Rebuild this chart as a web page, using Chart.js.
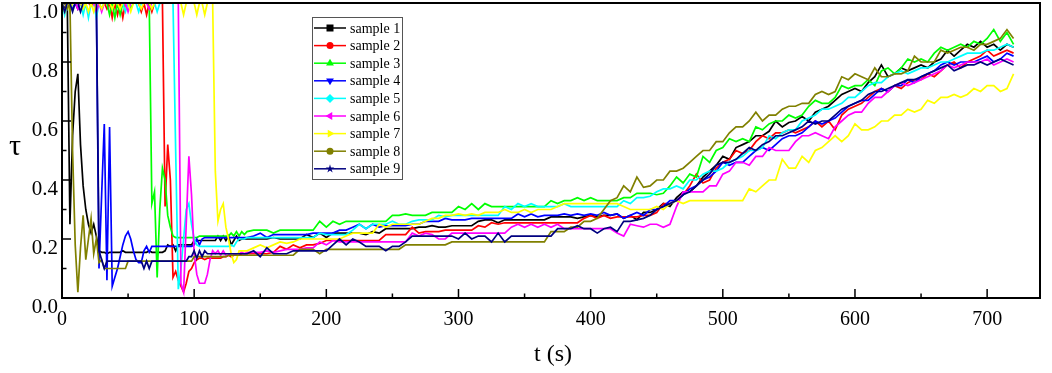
<!DOCTYPE html>
<html>
<head>
<meta charset="utf-8">
<script src="https://cdn.jsdelivr.net/npm/chart.js@4.4.1/dist/chart.umd.min.js"></script>
<style>
  html, body { margin: 0; padding: 0; background: #fff; }
  #wrap { width: 1052px; height: 373px; }
</style>
</head>
<body>
<div id="wrap"><canvas id="c"></canvas></div>
<script>
// time (s): 2 s steps up to 140 s, then 5 s steps
const tEarly = [0,2,4,6,8,10,12,14,16,18, 20,22,24,26,28,30,32,34,36,38,
  40,42,44,46,48,50,52,54,56,58, 60,62,64,66,68,70,72,74,76,78,
  80,82,84,86,88,90,92,94,96,98, 100,102,104,106,108,110,112,114,116,118,
  120,122,124,126,128,130,132,134,136,138, 140];
const tLate = [145,150,155,160,165,170,175,180,185,190, 195,200,205,210,215,220,225,230,235,240,
  245,250,255,260,265,270,275,280,285,290, 295,300,305,310,315,320,325,330,335,340,
  345,350,355,360,365,370,375,380,385,390, 395,400,405,410,415,420,425,430,435,440,
  445,450,455,460,465,470,475,480,485,490, 495,500,505,510,515,520,525,530,535,540,
  545,550,555,560,565,570,575,580,585,590, 595,600,605,610,615,620,625,630,635,640,
  645,650,655,660,665,670,675,680,685,690, 695,700,705,710,715,720];

const names = ["sample 1","sample 2","sample 3","sample 4","sample 5","sample 6","sample 7","sample 8","sample 9"];
const colors = ["#000000","#ff0000","#00ff00","#0000ff","#00ffff","#ff00ff","#ffff00","#808000","#000080"];
const markers = ["square","circle","triUp","triDown","diamond","triLeft","triRight","circle","star"];

const s1Early = [1.0,0.98,1.0,0.25,0.55,0.7,0.76,0.52,0.38,0.3,
  0.25,0.22,0.25,0.21,0.16,0.155,0.155,0.15,0.155,0.155,
  0.155,0.155,0.155,0.16,0.155,0.155,0.155,0.155,0.155,0.155,
  0.155,0.155,0.155,0.16,0.155,0.155,0.155,0.155,0.155,0.16,
  0.18,0.175,0.18,0.16,0.18,0.18,0.18,0.18,0.18,0.18,
  0.195,0.195,0.195,0.195,0.195,0.195,0.195,0.195,0.195,0.21,
  0.195,0.21,0.195,0.21,0.18,0.195,0.21,0.195,0.2,0.2, 0.2];
const s1Late = [0.2,0.2,0.2,0.205,0.2,0.2,0.2,0.2,0.215,0.205,
  0.22,0.205,0.22,0.22,0.22,0.22,0.22,0.215,0.225,0.22,
  0.235,0.235,0.235,0.235,0.235,0.24,0.24,0.245,0.24,0.24,
  0.245,0.245,0.245,0.245,0.26,0.265,0.265,0.255,0.265,0.265,
  0.265,0.265,0.265,0.265,0.265,0.275,0.275,0.275,0.275,0.27,
  0.275,0.28,0.275,0.28,0.28,0.285,0.27,0.28,0.265,0.29,
  0.29,0.3,0.32,0.31,0.34,0.36,0.36,0.38,0.41,0.43,
  0.45,0.48,0.47,0.51,0.52,0.53,0.55,0.55,0.565,0.6,
  0.58,0.595,0.6,0.615,0.6,0.63,0.64,0.65,0.67,0.69,
  0.7,0.71,0.7,0.73,0.75,0.79,0.75,0.76,0.78,0.77,
  0.78,0.79,0.78,0.8,0.81,0.84,0.82,0.84,0.86,0.85,
  0.87,0.85,0.86,0.84,0.86,0.85];

const s2Early = [1.0,1.0,0.98,1.0,1.0,1.0,0.98,1.0,1.0,1.0,
  1.0,0.99,1.0,1.0,1.0,1.0,1.0,0.98,1.0,0.95,
  1.0,0.96,1.0,0.95,1.0,1.0,1.0,1.0,1.0,1.0,
  0.97,1.0,0.96,1.0,0.97,1.0,1.0,1.0,1.0,0.31,
  0.52,0.4,0.07,0.09,0.06,0.04,0.02,0.05,0.09,0.1,
  0.12,0.13,0.135,0.135,0.13,0.135,0.135,0.135,0.135,0.135,
  0.135,0.14,0.14,0.145,0.14,0.145,0.145,0.145,0.15,0.15, 0.15];
const s2Late = [0.15,0.15,0.15,0.155,0.175,0.165,0.18,0.17,0.18,0.18,
  0.185,0.195,0.195,0.195,0.195,0.195,0.195,0.195,0.195,0.195,
  0.215,0.215,0.215,0.215,0.24,0.22,0.225,0.225,0.225,0.23,
  0.23,0.23,0.23,0.23,0.245,0.24,0.255,0.25,0.255,0.255,
  0.255,0.255,0.255,0.255,0.255,0.255,0.255,0.255,0.255,0.255,
  0.27,0.28,0.27,0.28,0.27,0.275,0.275,0.275,0.275,0.28,
  0.28,0.29,0.32,0.32,0.33,0.35,0.38,0.42,0.39,0.4,
  0.44,0.46,0.47,0.5,0.49,0.5,0.53,0.55,0.54,0.56,
  0.56,0.57,0.56,0.57,0.58,0.6,0.58,0.6,0.57,0.62,
  0.64,0.65,0.66,0.68,0.7,0.71,0.7,0.72,0.71,0.73,
  0.74,0.74,0.76,0.75,0.77,0.79,0.8,0.78,0.8,0.81,
  0.82,0.84,0.82,0.83,0.84,0.83];

const s3Early = [1.0,1.0,1.0,0.98,1.0,1.0,1.0,1.0,0.98,1.0,
  1.0,1.0,1.0,1.0,1.0,0.98,1.0,1.0,0.96,1.0,
  0.95,1.0,0.96,1.0,1.0,1.0,0.98,1.0,1.0,1.0,
  1.0,1.0,1.0,1.0,0.32,0.36,0.07,0.3,0.44,0.4,
  0.28,0.24,0.21,0.205,0.205,0.205,0.205,0.205,0.205,0.205,
  0.205,0.205,0.21,0.21,0.21,0.21,0.21,0.21,0.21,0.21,
  0.21,0.21,0.21,0.21,0.22,0.21,0.225,0.21,0.225,0.215, 0.225];
const s3Late = [0.23,0.23,0.23,0.22,0.23,0.23,0.23,0.23,0.23,0.23,
  0.26,0.24,0.26,0.25,0.26,0.26,0.26,0.26,0.26,0.26,
  0.26,0.28,0.28,0.285,0.28,0.28,0.28,0.29,0.29,0.29,
  0.29,0.31,0.3,0.32,0.3,0.32,0.31,0.31,0.31,0.31,
  0.31,0.31,0.31,0.31,0.31,0.33,0.32,0.33,0.33,0.34,
  0.33,0.34,0.33,0.33,0.33,0.33,0.34,0.34,0.355,0.355,
  0.355,0.35,0.355,0.38,0.41,0.39,0.42,0.41,0.48,0.46,
  0.5,0.51,0.54,0.53,0.54,0.53,0.58,0.57,0.59,0.6,
  0.6,0.62,0.61,0.62,0.65,0.67,0.66,0.66,0.68,0.72,
  0.71,0.72,0.72,0.74,0.72,0.77,0.78,0.76,0.78,0.81,
  0.8,0.81,0.8,0.83,0.85,0.84,0.85,0.86,0.85,0.87,
  0.86,0.88,0.91,0.87,0.9,0.86];

const s4Early = [1.0,1.0,0.98,1.0,0.98,1.0,0.98,1.0,1.0,1.0,
  1.0,1.0,1.0,1.0,0.1,0.35,0.59,0.06,0.58,0.04,
  0.07,0.1,0.14,0.18,0.21,0.225,0.2,0.16,0.13,0.12,
  0.12,0.16,0.175,0.155,0.175,0.175,0.175,0.175,0.175,0.175,
  0.175,0.175,0.175,0.175,0.175,0.175,0.175,0.175,0.175,0.175,
  0.18,0.2,0.18,0.2,0.205,0.205,0.205,0.205,0.205,0.205,
  0.205,0.205,0.205,0.205,0.205,0.205,0.205,0.205,0.205,0.205, 0.205];
const s4Late = [0.21,0.22,0.205,0.215,0.215,0.215,0.215,0.215,0.215,0.22,
  0.22,0.22,0.22,0.23,0.23,0.24,0.25,0.235,0.25,0.24,
  0.245,0.245,0.245,0.245,0.25,0.25,0.26,0.26,0.26,0.27,
  0.265,0.265,0.265,0.27,0.27,0.27,0.27,0.27,0.27,0.27,
  0.285,0.275,0.285,0.275,0.28,0.28,0.28,0.285,0.28,0.285,
  0.28,0.285,0.28,0.29,0.28,0.285,0.27,0.28,0.29,0.28,
  0.3,0.3,0.31,0.33,0.33,0.35,0.37,0.38,0.4,0.41,
  0.43,0.46,0.45,0.46,0.46,0.48,0.5,0.51,0.5,0.52,
  0.54,0.55,0.55,0.56,0.58,0.6,0.59,0.6,0.61,0.63,
  0.65,0.66,0.67,0.67,0.69,0.71,0.7,0.72,0.72,0.74,
  0.73,0.75,0.76,0.77,0.79,0.8,0.79,0.8,0.8,0.8,
  0.81,0.82,0.8,0.81,0.83,0.82];

const s5Early = [1.0,0.96,1.0,0.97,1.0,1.0,1.0,1.0,0.96,1.0,
  0.95,1.0,1.0,0.95,1.0,1.0,1.0,1.0,1.0,1.0,
  1.0,1.0,1.0,1.0,0.97,1.0,1.0,1.0,1.0,0.97,
  1.0,1.0,1.0,1.0,1.0,1.0,0.97,1.0,1.0,1.0,
  1.0,1.0,1.0,0.5,0.03,0.1,0.2,0.3,0.32,0.25,
  0.2,0.18,0.175,0.175,0.175,0.175,0.175,0.175,0.175,0.175,
  0.175,0.175,0.175,0.175,0.18,0.175,0.19,0.2,0.2,0.2, 0.205];
const s5Late = [0.205,0.205,0.205,0.205,0.205,0.205,0.205,0.205,0.205,0.205,
  0.22,0.215,0.215,0.215,0.215,0.23,0.25,0.235,0.25,0.25,
  0.25,0.26,0.25,0.25,0.26,0.265,0.265,0.265,0.28,0.275,
  0.28,0.28,0.28,0.28,0.28,0.28,0.28,0.28,0.31,0.3,
  0.32,0.31,0.32,0.31,0.31,0.31,0.31,0.32,0.31,0.31,
  0.31,0.31,0.31,0.31,0.31,0.31,0.33,0.32,0.34,0.34,
  0.345,0.36,0.37,0.37,0.38,0.37,0.4,0.4,0.42,0.43,
  0.43,0.44,0.46,0.47,0.48,0.5,0.5,0.51,0.55,0.54,
  0.56,0.57,0.57,0.6,0.61,0.62,0.64,0.64,0.65,0.66,
  0.68,0.68,0.7,0.72,0.73,0.73,0.75,0.76,0.77,0.76,
  0.77,0.78,0.78,0.79,0.8,0.8,0.81,0.82,0.83,0.83,
  0.83,0.84,0.84,0.85,0.86,0.85];

const s6Early = [1.0,1.0,1.0,1.0,1.0,1.0,0.98,1.0,1.0,1.0,
  1.0,1.0,1.0,0.97,1.0,0.97,1.0,1.0,1.0,1.0,
  1.0,1.0,1.0,1.0,1.0,0.97,1.0,1.0,1.0,1.0,
  1.0,1.0,1.0,0.98,1.0,1.0,1.0,1.0,1.0,1.0,
  1.0,1.0,1.0,1.0,1.0,0.05,0.02,0.25,0.48,0.35,
  0.15,0.08,0.05,0.05,0.05,0.08,0.13,0.16,0.15,0.16,
  0.145,0.16,0.145,0.145,0.15,0.15,0.15,0.15,0.155,0.15, 0.155];
const s6Late = [0.155,0.155,0.16,0.155,0.16,0.165,0.165,0.165,0.17,0.17,
  0.19,0.18,0.195,0.19,0.19,0.19,0.19,0.19,0.19,0.19,
  0.19,0.19,0.19,0.19,0.22,0.21,0.22,0.215,0.2,0.2,
  0.22,0.22,0.22,0.22,0.22,0.22,0.22,0.22,0.22,0.24,
  0.25,0.24,0.25,0.24,0.25,0.24,0.25,0.235,0.235,0.235,
  0.235,0.235,0.235,0.235,0.235,0.22,0.21,0.25,0.245,0.24,
  0.25,0.25,0.24,0.25,0.31,0.36,0.36,0.36,0.36,0.38,
  0.38,0.42,0.43,0.46,0.46,0.45,0.48,0.48,0.51,0.5,
  0.5,0.5,0.53,0.55,0.55,0.56,0.55,0.54,0.58,0.6,
  0.62,0.63,0.63,0.66,0.68,0.68,0.7,0.72,0.73,0.72,
  0.73,0.74,0.75,0.76,0.77,0.79,0.78,0.79,0.8,0.8,
  0.8,0.81,0.79,0.8,0.81,0.8];

const s7Early = [1.0,0.97,1.0,0.97,1.0,1.0,1.0,1.0,0.98,1.0,
  0.97,1.0,0.97,1.0,1.0,0.98,1.0,1.0,1.0,0.98,
  1.0,1.0,0.98,1.0,1.0,1.0,0.97,1.0,1.0,1.0,
  0.98,1.0,1.0,1.0,0.98,1.0,1.0,1.0,1.0,1.0,
  1.0,1.0,1.0,1.0,1.0,1.0,0.96,1.0,1.0,1.0,
  1.0,0.96,1.0,1.0,0.96,1.0,1.0,1.0,0.43,0.26,
  0.3,0.32,0.24,0.2,0.15,0.12,0.13,0.16,0.16,0.16, 0.16];
const s7Late = [0.17,0.18,0.17,0.18,0.19,0.185,0.19,0.2,0.2,0.2,
  0.2,0.2,0.2,0.2,0.21,0.22,0.22,0.22,0.22,0.25,
  0.24,0.25,0.25,0.25,0.25,0.25,0.26,0.27,0.27,0.28,
  0.28,0.285,0.28,0.285,0.28,0.29,0.29,0.29,0.3,0.29,
  0.29,0.3,0.29,0.3,0.3,0.3,0.31,0.32,0.32,0.32,
  0.32,0.32,0.32,0.32,0.32,0.32,0.31,0.3,0.3,0.3,
  0.3,0.31,0.3,0.32,0.33,0.32,0.33,0.33,0.33,0.33,
  0.33,0.33,0.33,0.33,0.33,0.37,0.36,0.38,0.4,0.4,
  0.47,0.44,0.44,0.48,0.46,0.5,0.51,0.53,0.55,0.53,
  0.55,0.59,0.57,0.57,0.58,0.6,0.6,0.62,0.62,0.64,
  0.63,0.64,0.67,0.66,0.68,0.68,0.69,0.68,0.69,0.71,
  0.7,0.72,0.72,0.7,0.71,0.76];

const s8Early = [1.0,1.0,0.98,1.0,0.5,0.18,0.02,0.17,0.28,0.13,
  0.2,0.27,0.15,0.2,0.12,0.13,0.1,0.1,0.1,0.1,
  0.1,0.1,0.1,0.1,0.1,0.125,0.125,0.125,0.125,0.125,
  0.125,0.125,0.125,0.125,0.125,0.125,0.125,0.125,0.125,0.125,
  0.125,0.125,0.125,0.125,0.125,0.125,0.125,0.125,0.125,0.125,
  0.14,0.14,0.14,0.14,0.14,0.14,0.14,0.14,0.14,0.14,
  0.14,0.14,0.14,0.145,0.145,0.145,0.145,0.145,0.145,0.145, 0.145];
const s8Late = [0.145,0.145,0.145,0.145,0.145,0.145,0.145,0.165,0.165,0.165,
  0.15,0.165,0.165,0.165,0.165,0.165,0.165,0.165,0.165,0.165,
  0.165,0.165,0.165,0.18,0.18,0.18,0.18,0.18,0.18,0.18,
  0.19,0.19,0.19,0.19,0.19,0.19,0.19,0.19,0.19,0.19,
  0.19,0.19,0.19,0.19,0.19,0.225,0.225,0.225,0.24,0.24,
  0.26,0.26,0.27,0.3,0.33,0.34,0.38,0.36,0.41,0.375,
  0.38,0.4,0.4,0.43,0.43,0.44,0.46,0.48,0.5,0.5,
  0.53,0.53,0.56,0.58,0.58,0.6,0.63,0.6,0.62,0.62,
  0.64,0.65,0.65,0.66,0.66,0.69,0.7,0.69,0.7,0.75,
  0.74,0.76,0.75,0.74,0.78,0.75,0.75,0.76,0.76,0.77,
  0.82,0.8,0.8,0.8,0.84,0.83,0.84,0.85,0.85,0.84,
  0.86,0.86,0.87,0.88,0.91,0.88];

const s9Early = [1.0,0.97,1.0,1.0,0.97,1.0,1.0,0.97,1.0,1.0,
  1.0,1.0,1.0,1.0,0.16,0.13,0.1,0.125,0.125,0.125,
  0.125,0.125,0.125,0.125,0.125,0.125,0.125,0.125,0.125,0.125,
  0.125,0.1,0.125,0.1,0.125,0.125,0.125,0.125,0.125,0.125,
  0.125,0.125,0.125,0.125,0.125,0.125,0.125,0.125,0.14,0.14,
  0.16,0.135,0.16,0.14,0.16,0.15,0.15,0.15,0.15,0.15,
  0.15,0.15,0.15,0.15,0.15,0.15,0.15,0.15,0.15,0.15, 0.15];
const s9Late = [0.16,0.14,0.17,0.15,0.15,0.15,0.16,0.16,0.16,0.16,
  0.16,0.16,0.18,0.2,0.18,0.2,0.19,0.175,0.175,0.175,
  0.16,0.175,0.175,0.19,0.21,0.21,0.21,0.21,0.21,0.21,
  0.21,0.2,0.22,0.2,0.21,0.21,0.19,0.22,0.19,0.21,
  0.21,0.21,0.21,0.21,0.21,0.21,0.235,0.235,0.235,0.245,
  0.235,0.235,0.22,0.235,0.24,0.225,0.26,0.26,0.265,0.27,
  0.28,0.3,0.31,0.32,0.33,0.35,0.36,0.38,0.4,0.42,
  0.45,0.46,0.46,0.47,0.49,0.51,0.5,0.52,0.53,0.55,
  0.55,0.56,0.57,0.58,0.6,0.59,0.6,0.6,0.62,0.64,
  0.65,0.66,0.67,0.69,0.7,0.7,0.71,0.72,0.73,0.74,
  0.74,0.75,0.76,0.77,0.78,0.79,0.77,0.78,0.79,0.79,
  0.8,0.79,0.8,0.81,0.8,0.79];

const t = tEarly.concat(tLate);
const series = [
  s1Early.concat(s1Late), s2Early.concat(s2Late), s3Early.concat(s3Late),
  s4Early.concat(s4Late), s5Early.concat(s5Late), s6Early.concat(s6Late),
  s7Early.concat(s7Late), s8Early.concat(s8Late), s9Early.concat(s9Late)
];

const serif = "'Liberation Serif', 'Times New Roman', serif";

function drawMarker(ctx, shape, x, y, r, color) {
  ctx.fillStyle = color;
  ctx.beginPath();
  if (shape === "square") {
    ctx.rect(x - r, y - r, 2 * r, 2 * r);
  } else if (shape === "circle") {
    ctx.arc(x, y, r, 0, Math.PI * 2);
  } else if (shape === "diamond") {
    ctx.moveTo(x, y - r - 1); ctx.lineTo(x + r + 1, y); ctx.lineTo(x, y + r + 1); ctx.lineTo(x - r - 1, y);
  } else if (shape === "star") {
    for (let k = 0; k < 10; k++) {
      const rr = k % 2 ? r * 0.45 : r + 1;
      const ang = -Math.PI / 2 + k * Math.PI / 5;
      const px = x + rr * Math.cos(ang), py = y + rr * Math.sin(ang);
      if (k === 0) ctx.moveTo(px, py); else ctx.lineTo(px, py);
    }
  } else {
    const rot = { triUp: 0, triRight: 90, triDown: 180, triLeft: 270 }[shape] * Math.PI / 180;
    for (let k = 0; k < 3; k++) {
      const ang = -Math.PI / 2 + rot + k * 2 * Math.PI / 3;
      const px = x + (r + 1) * Math.cos(ang), py = y + (r + 1) * Math.sin(ang);
      if (k === 0) ctx.moveTo(px, py); else ctx.lineTo(px, py);
    }
  }
  ctx.closePath();
  ctx.fill();
}

const frame = {
  id: "frame",
  afterDraw(chart) {
    const ctx = chart.ctx;
    const a = chart.chartArea;
    const xs = chart.scales.x, ys = chart.scales.y;
    ctx.save();
    ctx.strokeStyle = "#000";
    ctx.lineWidth = 2;
    ctx.strokeRect(a.left, a.top, a.right - a.left, a.bottom - a.top);

    // inward ticks, minor ones half length
    ctx.lineWidth = 1.5;
    ctx.beginPath();
    for (let v = 0; v <= 700; v += 50) {
      const px = xs.getPixelForValue(v);
      const len = v % 100 === 0 ? 9 : 4.5;
      ctx.moveTo(px, a.bottom); ctx.lineTo(px, a.bottom - len);
    }
    for (let i = 0; i <= 10; i++) {
      const py = ys.getPixelForValue(i / 10);
      const len = i % 2 === 0 ? 9 : 4.5;
      ctx.moveTo(a.left, py); ctx.lineTo(a.left + len, py);
    }
    ctx.stroke();

    // axis titles
    ctx.fillStyle = "#000";
    ctx.textAlign = "center";
    ctx.textBaseline = "middle";
    ctx.font = "24px " + serif;
    ctx.fillText("t (s)", 553, 355);
    ctx.font = "30px " + serif;
    ctx.fillText("τ", 15, 147);

    // legend
    const lx = 312, ly = 17, lw = 90, lh = 162;
    ctx.fillStyle = "#fff";
    ctx.fillRect(lx, ly, lw, lh);
    ctx.strokeStyle = "#555";
    ctx.lineWidth = 1;
    ctx.strokeRect(lx + 0.5, ly + 0.5, lw, lh);
    ctx.font = "14px " + serif;
    ctx.textAlign = "left";
    for (let i = 0; i < names.length; i++) {
      const y = 28 + i * 17.6;
      ctx.strokeStyle = colors[i];
      ctx.lineWidth = 1.5;
      ctx.beginPath();
      ctx.moveTo(314, y); ctx.lineTo(346, y);
      ctx.stroke();
      drawMarker(ctx, markers[i], 330, y, 3.5, colors[i]);
      ctx.fillStyle = "#000";
      ctx.fillText(names[i], 350, y + 1);
    }
    ctx.restore();
  }
};

const datasets = series.map((vals, i) => ({
  label: names[i],
  data: t.map((x, j) => ({ x: x, y: vals[j] })),
  borderColor: colors[i],
  backgroundColor: colors[i],
  borderWidth: 1.7,
  pointRadius: 0,
  tension: 0,
  order: 9 - i
}));

const tickFont = { family: serif, size: 20 };

new Chart(document.getElementById("c"), {
  type: "line",
  data: { datasets: datasets },
  options: {
    responsive: true,
    maintainAspectRatio: false,
    animation: false,
    layout: { padding: { top: 3, right: 12, left: 0, bottom: 0 } },
    plugins: { legend: { display: false }, tooltip: { enabled: false } },
    scales: {
      x: {
        type: "linear",
        min: 0,
        max: 740,
        afterFit: (s) => { s.height = 75; s.paddingLeft = 0; s.paddingRight = 0; },
        grid: { display: false, drawTicks: false },
        border: { display: false },
        ticks: {
          stepSize: 100, includeBounds: false, padding: 10, maxRotation: 0,
          color: "#000", font: tickFont
        }
      },
      y: {
        min: 0,
        max: 1,
        afterFit: (s) => { s.width = 62; s.paddingTop = 0; s.paddingBottom = 0; },
        grid: { display: false, drawTicks: false },
        border: { display: false },
        ticks: {
          stepSize: 0.2, padding: 4, labelOffset: 9,
          color: "#000", font: { family: serif, size: 21 },
          callback: (v) => Number(v).toFixed(1)
        }
      }
    }
  },
  plugins: [frame]
});

series.forEach((s, i) => {
  if (s.length !== t.length) throw new Error("series " + (i + 1) + " has " + s.length + " values, expected " + t.length);
});
</script>
</body>
</html>
